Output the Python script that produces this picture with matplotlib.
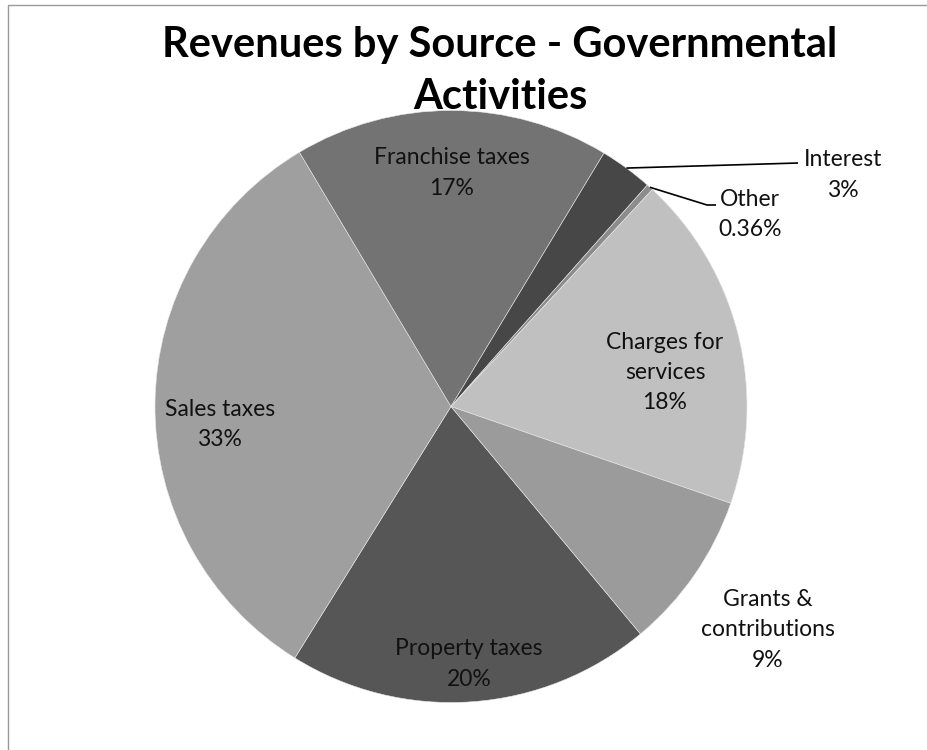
"""
Pie chart of governmental revenues by source.
"""

import matplotlib.pyplot as plt
import numpy as np
from matplotlib.lines import Line2D

plt.rcParams["font.family"] = ["Lato", "DejaVu Sans"]

# data (percent of total revenues), clockwise order
sources = [
    "Property taxes",
    "Sales taxes",
    "Franchise taxes",
    "Interest",
    "Other",
    "Charges for\nservices",
    "Grants &\ncontributions",
]
shares = [19.9, 32.6, 17.2, 2.9, 0.36, 18.4, 8.64]
colors = ["#565656", "#9f9f9f", "#737373", "#474747", "#8c8c8c", "#c0c0c0", "#9b9b9b"]

W, H = 928, 750
CX, CY, R = 451, H - 406.5, 296

# label layout: (radius factor, angle shift in degrees) for labels placed by angle
inside_layout = {
    "Property taxes": (0.872, 0.0),
    "Sales taxes": (0.783, 5.0),
    "Franchise taxes": (0.789, 0.0),
    "Charges for\nservices": (0.732, -5.0),
    "Grants &\ncontributions": (1.31, -0.5),
}
# callout labels: text centre and leader path (pixels, y up)
callout_layout = {
    "Interest": ((843, H - 175), [(798, H - 163)]),
    "Other": ((750, H - 214.5), [(707, H - 205), (716, H - 205)]),
}


def format_share(value: float) -> str:
    if value < 1:
        return f"{value:.2f}%"
    return f"{value:.0f}%"


fig = plt.figure(figsize=(W / 100, H / 100), dpi=100)
ax = fig.add_axes([0, 0, 1, 1])

wedges, _ = ax.pie(
    shares,
    colors=colors,
    startangle=90 - 140.2,
    counterclock=False,
    radius=R,
    center=(CX, CY),
    wedgeprops=dict(edgecolor="#e8e8e8", linewidth=0.4),
    frame=False,
)
ax.set_xlim(0, W)
ax.set_ylim(0, H)
ax.set_aspect("equal")
ax.axis("off")

label_kw = dict(fontsize=16.5, color="#111111", ha="center", va="center", linespacing=1.55)

for wedge, source, value in zip(wedges, sources, shares):
    mid = np.deg2rad((wedge.theta1 + wedge.theta2) / 2)
    text = f"{source}\n{format_share(value)}"
    if source in inside_layout:
        factor, shift = inside_layout[source]
        ang = mid + np.deg2rad(shift)
        ax.text(CX + factor * R * np.cos(ang), CY + factor * R * np.sin(ang), text, **label_kw)
    else:
        (tx, ty), path = callout_layout[source]
        rim = (CX + R * np.cos(mid), CY + R * np.sin(mid))
        xs = [rim[0]] + [p[0] for p in path]
        ys = [rim[1]] + [p[1] for p in path]
        ax.plot(xs, ys, color="black", linewidth=1.2, solid_capstyle="butt")
        ax.text(tx, ty, text, **label_kw)

fig.text(500 / W, (H - 57) / H, "Revenues by Source - Governmental",
         fontsize=30, fontweight="bold", ha="center", va="baseline")
fig.text(500 / W, (H - 109) / H, "Activities",
         fontsize=30, fontweight="bold", ha="center", va="baseline")

# chart-area border (left and top edges are visible)
fig.add_artist(Line2D([8 / W, 8 / W, 1.1], [-0.1, (H - 4.5) / H, (H - 4.5) / H],
                      transform=fig.transFigure, color="#9a9a9a", linewidth=1.0))

fig.savefig("out.png", dpi=100)
plt.close(fig)
